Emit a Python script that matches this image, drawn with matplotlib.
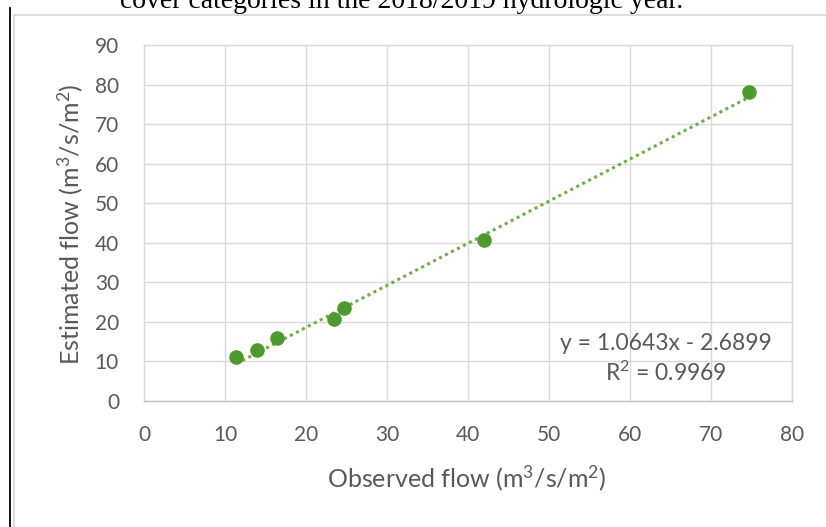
import numpy as np
import matplotlib
matplotlib.use("Agg")
import matplotlib.pyplot as plt
from matplotlib.lines import Line2D
from matplotlib.patches import Rectangle

# observed vs estimated flow (m3/s/m2)
observed  = [11.4, 13.9, 16.4, 23.5, 24.7, 42.0, 74.7]
estimated = [11.2, 12.8, 16.0, 20.7, 23.6, 40.8, 78.2]

# trendline coefficients as printed in the chart
slope     = 1.0643
intercept = -2.6899
r_squared = 0.9969

x_ticks = list(range(0, 81, 10))
y_ticks = list(range(0, 91, 10))

caption = "cover categories in the 2018/2019 hydrologic year."

GREEN     = "#4f9a2f"
TREND     = "#70ad47"
TEXT_GREY = "#595959"
GRID      = "#d9d9d9"

plt.rcParams["font.family"] = ["Lato", "DejaVu Sans"]
plt.rcParams["mathtext.fontset"] = "custom"
plt.rcParams["mathtext.rm"] = "Lato"
plt.rcParams["mathtext.it"] = "Lato:italic"
plt.rcParams["mathtext.default"] = "rm"

W, H = 826, 527
fig = plt.figure(figsize=(W / 100, H / 100), dpi=100)

# plot area in pixels: left 144, right 792, top 45, bottom 401
ax = fig.add_axes([144 / W, 1 - 401 / H, (792 - 144) / W, (401 - 45) / H])

ax.scatter(observed, estimated, s=110, color=GREEN, zorder=3, linewidths=0)

xt = np.array([min(observed), max(observed)])
ax.plot(xt, slope * xt + intercept, color=TREND, linestyle=(0, (1, 1.2)),
        linewidth=2.2, zorder=2)

ax.set_xlim(0, 80)
ax.set_ylim(0, 90)
ax.set_xticks(x_ticks)
ax.set_yticks(y_ticks)
ax.grid(True, color=GRID, linewidth=1.0)
ax.set_axisbelow(True)
for side, sp in ax.spines.items():
    sp.set_color(GRID)
    sp.set_linewidth(1.0)
ax.spines["bottom"].set_color("#bfbfbf")
ax.tick_params(length=0, labelsize=15, labelcolor=TEXT_GREY)
ax.tick_params(axis="y", pad=18)
ax.tick_params(axis="x", pad=17)

unit = r"(m$^{3}$/s/m$^{2}$)"
ax.set_xlabel("Observed flow " + unit, fontsize=18, color=TEXT_GREY, va="center")
ax.set_ylabel("Estimated flow " + unit, fontsize=18, color=TEXT_GREY, va="center")
ax.xaxis.set_label_coords((467 - 144) / 648, (401 - 478) / 356)
ax.yaxis.set_label_coords((70 - 144) / 648, (401 - 224) / 356)

sign = "-" if intercept < 0 else "+"
ax.text(666, 344, f"y = {slope:.4f}x {sign} {abs(intercept):.4f}",
        ha="center", va="center", fontsize=16.5, color=TEXT_GREY,
        transform=None)
ax.text(666, 373, "R$^{2}$" + f" = {r_squared:.4f}",
        ha="center", va="center", fontsize=16.5, color=TEXT_GREY,
        transform=None)
# the two texts above were given in pixels from the top; flip them
for t in ax.texts:
    px, py = t.get_position()
    t.set_transform(fig.transFigure)
    t.set_position((px / W, 1 - py / H))

# chart frame and page margin line
fig.patches.append(Rectangle((14 / W, -0.01), 1, 1 - 15 / H + 0.01,
                             transform=fig.transFigure, fill=False,
                             edgecolor="#dcdcdc", linewidth=1.5))
fig.lines.append(Line2D([9.5 / W, 9.5 / W], [0, 1 - 8 / H],
                        transform=fig.transFigure, color="black", linewidth=1.3))

fig.text(402 / W, 1 - 8.5 / H, caption, ha="center", va="baseline",
         fontsize=20, family=["Liberation Serif", "DejaVu Serif"], color="black")

fig.savefig("out.png", dpi=100)
